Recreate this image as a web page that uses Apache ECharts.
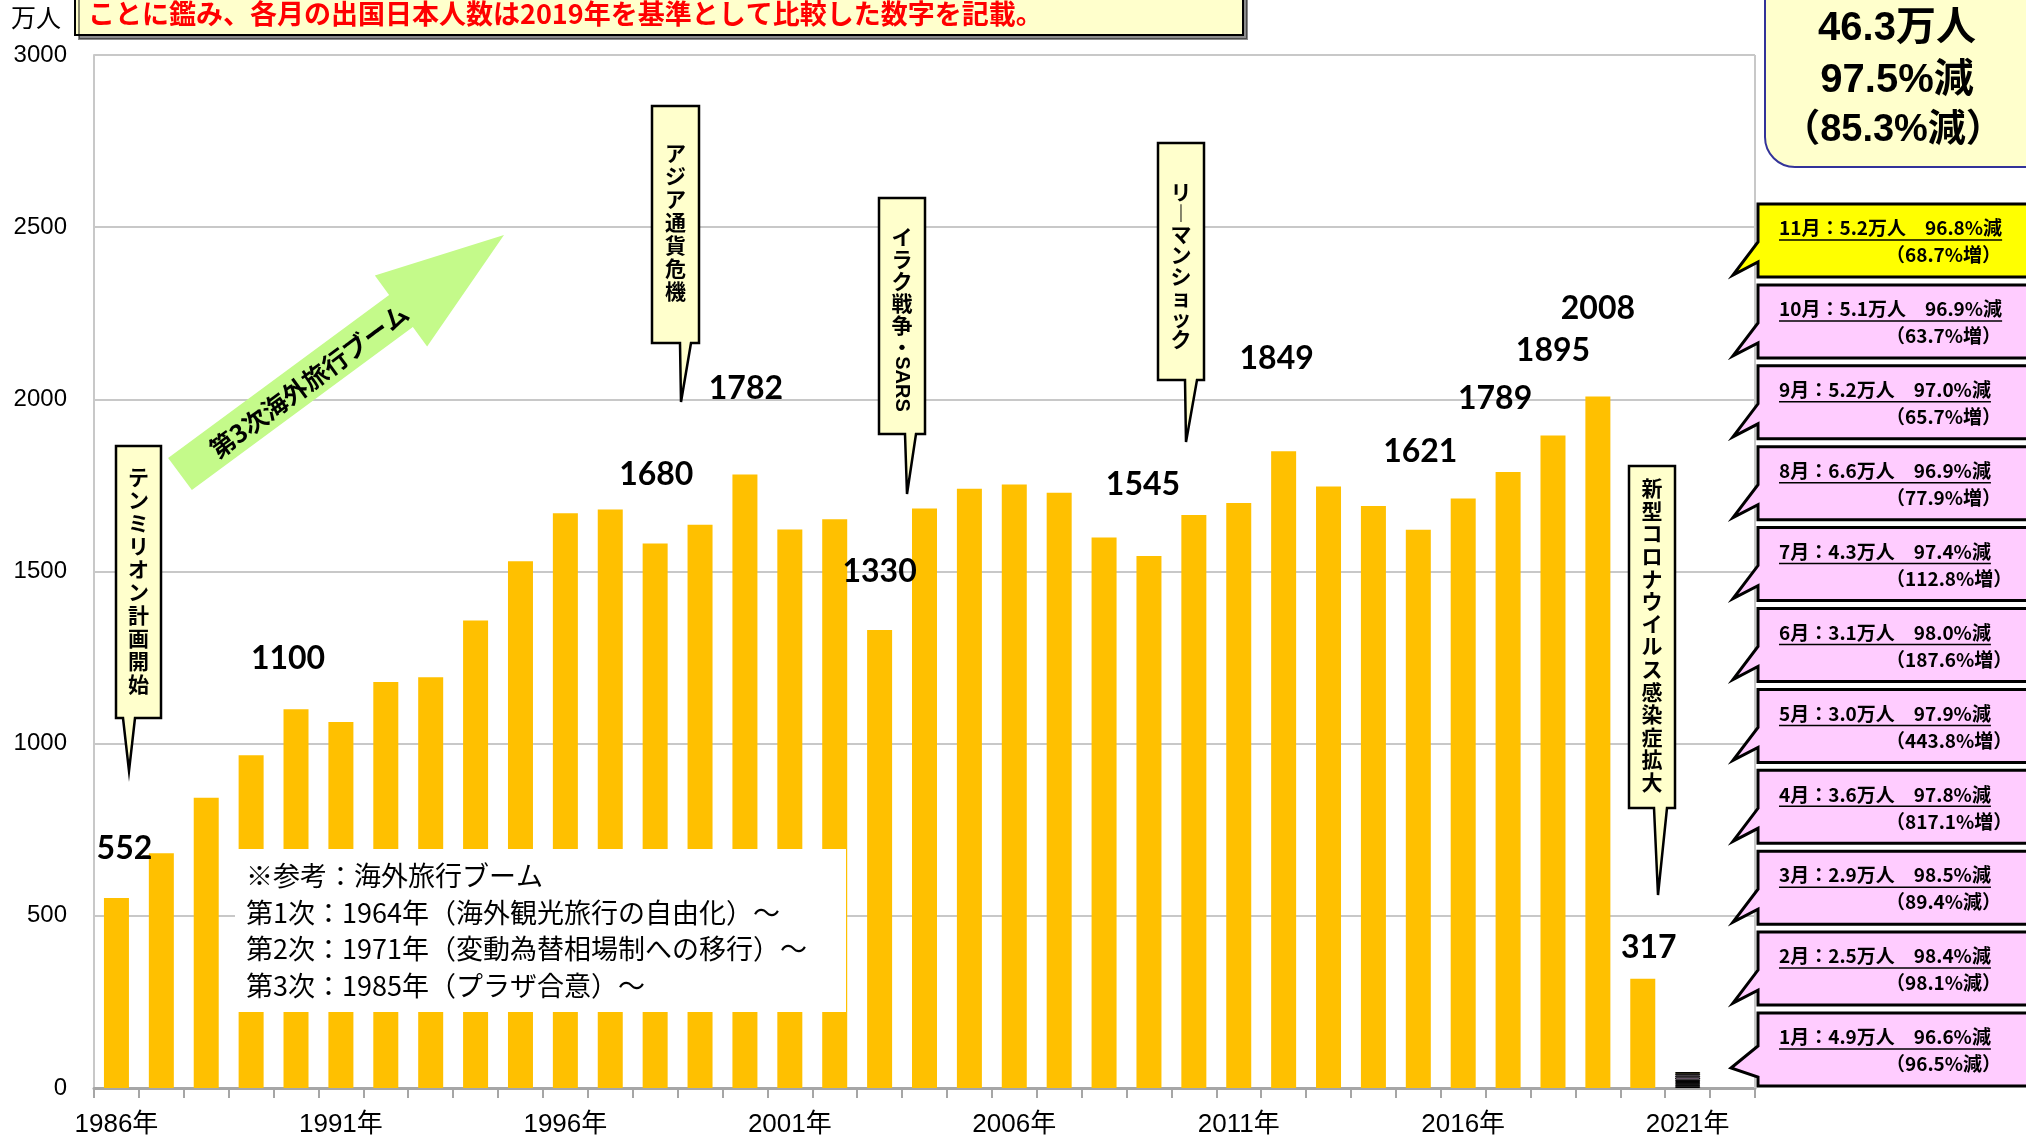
<!DOCTYPE html>
<html>
<head>
<meta charset="utf-8">
<script src="https://cdn.jsdelivr.net/npm/echarts/dist/echarts.min.js"></script>
<style>
html, body { margin: 0; padding: 0; background: #fff; }
#chart { width: 2026px; height: 1143px; }
</style>
</head>
<body>
<div id="chart"></div>
<script>
// 出国日本人数の推移（万人）
const years = ['1986','1987','1988','1989','1990','1991','1992','1993','1994','1995',
  '1996','1997','1998','1999','2000','2001','2002','2003','2004','2005',
  '2006','2007','2008','2009','2010','2011','2012','2013','2014','2015',
  '2016','2017','2018','2019','2020','2021','2022'];
const travellers = [552, 682, 843, 966, 1100, 1063, 1179, 1193, 1358, 1530,
  1669, 1680, 1581, 1636, 1782, 1622, 1652, 1330, 1683, 1740,
  1753, 1729, 1599, 1545, 1664, 1699, 1849, 1747, 1690, 1621,
  1712, 1789, 1895, 2008, 317, null, null];
const labeledYears = ['1986','1990','1997','2000','2003','2009','2012','2015','2017','2018','2019','2020'];

// 2021年 月別（万人）と比較（%）
const months2021 = ['1月','2月','3月','4月','5月','6月','7月','8月','9月','10月','11月'];
const monthly2021 = [4.9, 2.5, 2.9, 3.6, 3.0, 3.1, 4.3, 6.6, 5.2, 5.1, 5.2];
const vs2019Decrease = [96.6, 98.4, 98.5, 97.8, 97.9, 98.0, 97.4, 96.9, 97.0, 96.9, 96.8];
const vs2020Change = [-96.5, -98.1, -89.4, 817.1, 443.8, 187.6, 112.8, 77.9, 65.7, 63.7, 68.7];
const total2021 = 46.3;
const total2021Vs2019 = -97.5;
const total2021Vs2020 = -85.3;

const yTickMin = 0, yTickMax = 3000, yTickStep = 500;

const noteText = 'ことに鑑み、各月の出国日本人数は2019年を基準として比較した数字を記載。';
const boomNotes = [
  '※参考：海外旅行ブーム',
  '第1次：1964年（海外観光旅行の自由化）～',
  '第2次：1971年（変動為替相場制への移行）～',
  '第3次：1985年（プラザ合意）～'
];

const CJK = '"Noto Sans CJK JP", sans-serif';
const SANS = '"Liberation Sans", "Noto Sans CJK JP", sans-serif';

// value-label nudges (px) per labelled year
const labelNudge = {
  '1986': [8, -29], '1990': [-8, -31], '1997': [46, -15], '2000': [1, -66],
  '2003': [0, -38], '2009': [-6, -51], '2012': [-7, -73], '2015': [2, -58],
  '2017': [-13, -53], '2018': [0, -65], '2019': [0, -68], '2020': [6, -11]
};

const annualData = years.map((y, i) => {
  const v = travellers[i];
  if (v == null) return '-';
  if (labeledYears.indexOf(y) >= 0) {
    return { value: v, label: { show: true, offset: labelNudge[y] || [0, 0] } };
  }
  return v;
});

const series = [{
  name: '出国日本人数',
  type: 'bar',
  stack: 'total',
  barWidth: 25,
  itemStyle: { color: '#FFC000' },
  label: {
    show: false, position: 'top', distance: 5,
    fontSize: 32, fontWeight: 'bold', fontFamily: 'Lato, "Liberation Sans", sans-serif',
    color: '#000', lineHeight: 30, formatter: '{c}'
  },
  data: annualData
}];
months2021.forEach((m, k) => {
  series.push({
    name: '2021年' + m,
    type: 'bar',
    stack: 'total',
    barWidth: 26,
    itemStyle: { color: k === 10 ? '#FFFF00' : '#FFCCFF', borderColor: '#000', borderWidth: 1 },
    data: years.map(y => (y === '2021' ? monthly2021[k] : '-'))
  });
});

// ---------- annotations ----------
const graphics = [];
const canvasCtx = document.createElement('canvas').getContext('2d');
function textWidth(str, font) { canvasCtx.font = font; return canvasCtx.measureText(str).width; }

function txt(x, y, text, opt) {
  const o = Object.assign({ size: 20, weight: 'normal', family: CJK, fill: '#000', align: 'left', valign: 'middle' }, opt || {});
  return {
    type: 'text', x: x, y: y, z: 110, rotation: o.rotation || 0,
    style: {
      text: text, x: 0, y: 0, fill: o.fill,
      font: o.weight + ' ' + o.size + 'px ' + o.family,
      lineHeight: o.lineHeight,
      align: o.align, verticalAlign: o.valign,
      textAlign: o.align, textVerticalAlign: o.valign
    }
  };
}

// top-left note box
graphics.push({
  type: 'rect', z: 100,
  shape: { x: 75, y: -20, width: 1168, height: 55 },
  style: { fill: '#FFFFCC', stroke: '#000', lineWidth: 2, shadowColor: 'rgba(0,0,0,0.45)', shadowOffsetX: 4, shadowOffsetY: 4, shadowBlur: 0 }
});
graphics.push(txt(88, 14, noteText, { size: 27, weight: 'bold', fill: '#FF0000' }));

// unit
graphics.push(txt(36, 17, '万人', { size: 25, align: 'center' }));

// plot right border
graphics.push({ type: 'line', z: 1, shape: { x1: 1755, y1: 55, x2: 1755, y2: 1088 }, style: { stroke: '#c8c8c8', lineWidth: 2 } });

// 2021 summary box
graphics.push({
  type: 'rect', z: 100,
  shape: { x: 1765, y: -40, width: 300, height: 207, r: 30 },
  style: { fill: '#FFFFCC', stroke: '#333399', lineWidth: 2 }
});
graphics.push(txt(1897, 29, total2021 + '万人', { size: 40, weight: 'bold', family: SANS, align: 'center' }));
graphics.push(txt(1897, 81, Math.abs(total2021Vs2019) + '%' + (total2021Vs2019 < 0 ? '減' : '増'), { size: 40, weight: 'bold', family: SANS, align: 'center' }));
graphics.push(txt(1893, 131, '（' + Math.abs(total2021Vs2020) + '%' + (total2021Vs2020 < 0 ? '減' : '増') + '）', { size: 38, weight: 'bold', family: SANS, align: 'center' }));

// monthly callouts
const cx1 = 1758, cx2 = 2045, cH = 73;
months2021.forEach((m, k) => {
  const top = 1013 - k * 80.9;
  const bot = top + cH;
  let pts;
  if (k === 0) {
    pts = [[cx1, top], [cx2, top], [cx2, bot], [cx1, bot], [cx1, top + 64], [1731, top + 55], [cx1, top + 33]];
  } else {
    pts = [[cx1, top], [cx2, top], [cx2, bot], [cx1, bot], [cx1, top + 58], [1733, top + 71], [cx1, top + 38]];
  }
  graphics.push({
    type: 'polygon', z: 100, shape: { points: pts },
    style: { fill: k === 10 ? '#FFFF00' : '#FFCCFF', stroke: '#000', lineWidth: 3, lineJoin: 'miter' }
  });
  const line1 = m + '：' + monthly2021[k].toFixed(1) + '万人　' + vs2019Decrease[k].toFixed(1) + '%減';
  const ch = vs2020Change[k];
  const line2 = '（' + Math.abs(ch).toFixed(1) + '%' + (ch >= 0 ? '増' : '減') + '）';
  const f1 = 'bold 19px ' + CJK;
  graphics.push(txt(1779, top + 24, line1, { size: 19, weight: 'bold' }));
  const w1 = textWidth(line1, f1);
  graphics.push({ type: 'line', z: 110, shape: { x1: 1779, y1: top + 36, x2: 1779 + w1, y2: top + 36 }, style: { stroke: '#000', lineWidth: 1.5 } });
  graphics.push(txt(1886, top + 51, line2, { size: 19, weight: 'bold' }));
});

// vertical event callouts
const events = [
  { text: 'テンミリオン計画開始', box: [116, 446, 161, 718], base: [123, 135], tip: [129, 771], textTop: 466, lh: 23 },
  { text: 'アジア通貨危機', box: [652, 106, 699, 343], base: [680, 691], tip: [681, 402], textTop: 142, lh: 23 },
  { text: 'イラク戦争・', tail: 'SARS', box: [879, 198, 925, 434], base: [905, 916], tip: [907, 494], textTop: 226, lh: 22 },
  { text: 'リ︱マンショック', box: [1158, 143, 1204, 380], base: [1185, 1197], tip: [1186, 442], textTop: 182, lh: 21 },
  { text: '新型コロナウイルス感染症拡大', box: [1629, 466, 1675, 808], base: [1654, 1667], tip: [1658, 895], textTop: 477, lh: 22.6 }
];
events.forEach(ev => {
  const [x1, y1, x2, y2] = ev.box;
  graphics.push({
    type: 'polygon', z: 100,
    shape: { points: [[x1, y1], [x2, y1], [x2, y2], [ev.base[1], y2], ev.tip, [ev.base[0], y2], [x1, y2]] },
    style: { fill: '#FFFFCC', stroke: '#000', lineWidth: 2.5, lineJoin: 'miter' }
  });
  const cx = (x1 + x2) / 2;
  graphics.push(txt(cx, ev.textTop, Array.from(ev.text).join('\n'), { size: 21, weight: 'bold', align: 'center', valign: 'top', lineHeight: ev.lh }));
  if (ev.tail) {
    const startY = ev.textTop + ev.lh * Array.from(ev.text).length + 2;
    graphics.push(txt(cx, startY + 24, ev.tail, { size: 20, weight: 'bold', family: SANS, align: 'center', rotation: -Math.PI / 2 }));
  }
});

// 第3次海外旅行ブーム arrow
(function () {
  const tail = [180, 474], tip = [504, 235];
  const shaftHalf = 20, headHalf = 44, headLen = 128;
  const dx = tip[0] - tail[0], dy = tip[1] - tail[1];
  const len = Math.hypot(dx, dy);
  const ux = dx / len, uy = dy / len, nx = -uy, ny = ux;
  const hb = [tip[0] - ux * headLen, tip[1] - uy * headLen];
  const p = (b, s) => [b[0] + nx * s, b[1] + ny * s];
  graphics.push({
    type: 'polygon', z: 90,
    shape: { points: [p(tail, shaftHalf), p(hb, shaftHalf), p(hb, headHalf), tip, p(hb, -headHalf), p(hb, -shaftHalf), p(tail, -shaftHalf)] },
    style: { fill: '#C4FA8A' }
  });
  const ang = Math.atan2(-dy, dx);
  graphics.push(txt(309, 381, '第3次海外旅行ブーム', { size: 25, weight: 'bold', align: 'center', rotation: ang }));
})();

// reference note panel
graphics.push({ type: 'rect', z: 100, shape: { x: 235, y: 849, width: 611, height: 163 }, style: { fill: '#fff' } });
boomNotes.forEach((t, i) => {
  graphics.push(txt(246, 876 + i * 36.5, t, { size: 27 }));
});

const chart = echarts.init(document.getElementById('chart'), null, { renderer: 'canvas' });
chart.setOption({
  animation: false,
  backgroundColor: '#fff',
  grid: { left: 94, right: 271, top: 55, bottom: 55, containLabel: false },
  xAxis: {
    type: 'category',
    data: years,
    axisLine: { show: true, lineStyle: { color: '#a6a6a6', width: 3 } },
    axisTick: { show: true, interval: 0, length: 10, lineStyle: { color: '#a6a6a6', width: 2 } },
    axisLabel: { interval: 4, formatter: v => v + '年', fontSize: 26, color: '#000', margin: 24, fontFamily: SANS }
  },
  yAxis: {
    type: 'value',
    min: yTickMin, max: yTickMax, interval: yTickStep,
    axisLine: { show: true, lineStyle: { color: '#c8c8c8', width: 2 } },
    axisTick: { show: false },
    splitLine: { lineStyle: { color: '#c8c8c8', width: 2 } },
    axisLabel: { fontSize: 24, color: '#000', margin: 27, fontFamily: SANS, formatter: v => String(v) }
  },
  series: series,
  graphic: { elements: graphics }
});
</script>
</body>
</html>
